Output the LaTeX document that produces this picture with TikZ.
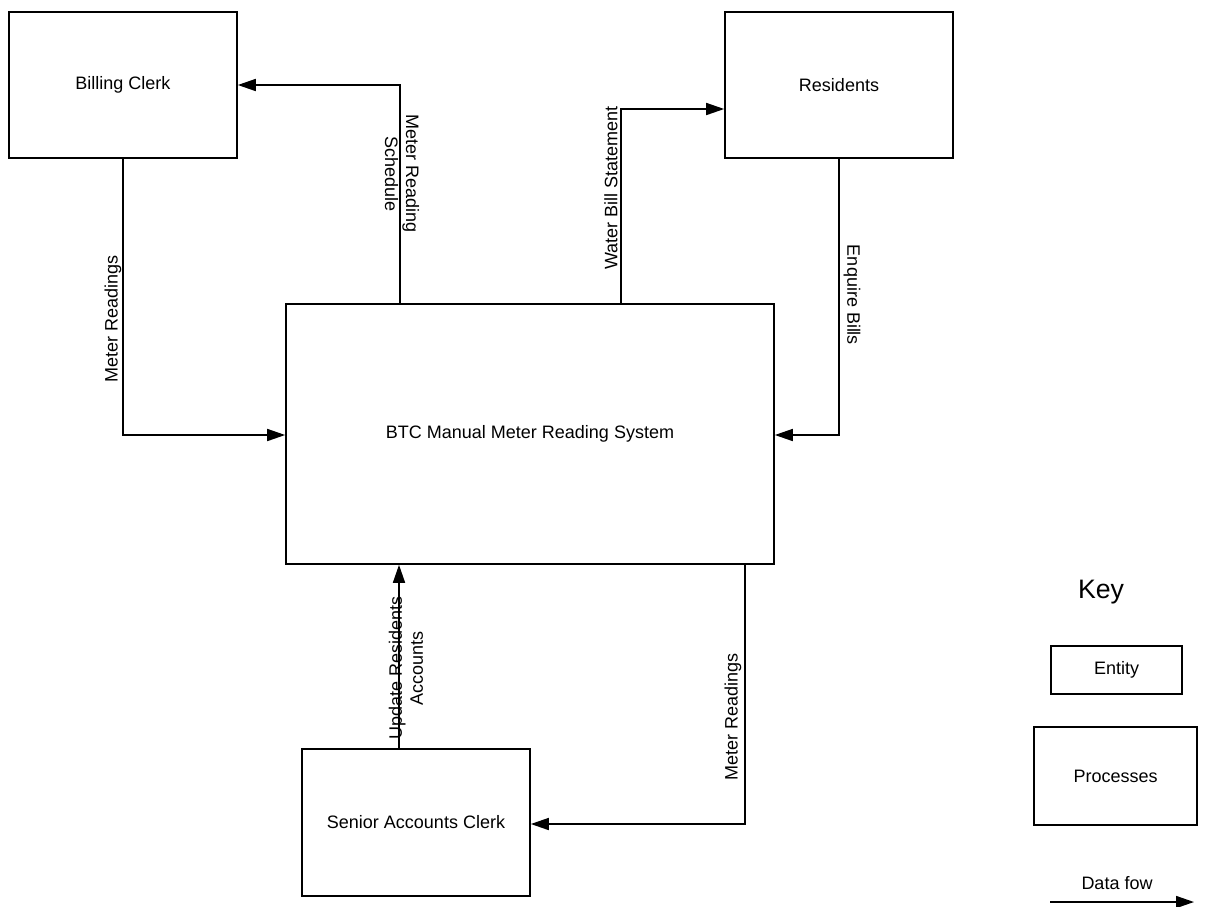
\documentclass[tikz,border=0pt]{standalone}
\usepackage{fontspec}
\setmainfont{Liberation Sans}
\usetikzlibrary{arrows.meta}
\begin{document}
\begin{tikzpicture}[x=1pt,y=-1pt,
  box/.style={draw, line width=1.6pt, inner sep=0pt, font=\fontsize{18}{21}\selectfont, align=center},
  flow/.style={line width=1.6pt, -{Triangle[length=18pt,width=12pt]}},
  lbl/.style={font=\fontsize{18}{21}\selectfont, align=center, inner sep=0pt}]
\useasboundingbox (0,0) rectangle (1206,906);
% entities and process
\node[box, minimum width=228pt, minimum height=146pt] (bc) at (123,85) {Billing Clerk};
\node[box, minimum width=228pt, minimum height=146pt] (res) at (839,85) {Residents};
\node[box, minimum width=488pt, minimum height=260pt] (btc) at (530,434) {BTC Manual Meter Reading System};
\node[box, minimum width=228pt, minimum height=147pt] (sac) at (416,822.5) {Senior Accounts Clerk};
% connectors
\draw[flow] (bc.south) |- (btc.west |- 0,435);
\draw[flow] (btc.north -| 400,0) |- (bc.east);
\draw[flow] (btc.north -| 621,0) |- (res.west |- 0,109);
\draw[flow] (res.south -| 839,0) |- (btc.east |- 0,435);
\draw[flow] (sac.north -| 399,0) -- (btc.south -| 399,0);
\draw[flow] (btc.south -| 745,0) |- (sac.east |- 0,824);
% labels
\node[lbl, rotate=90] (l1) at (113,319) {Meter Readings};
\node[lbl, rotate=-90] (l2) at (402,174) {Meter Reading\\Schedule};
\node[lbl, rotate=90] (l3) at (611,188) {Water Bill Statement};
\node[lbl, rotate=-90] (l4) at (852,295) {Enquire Bills};
\node[lbl, rotate=90] (l5) at (406,668) {Update Residents\\Accounts};
\node[lbl, rotate=90] (l6) at (733,717) {Meter Readings};
% key
\node[lbl, font=\fontsize{26.7}{30}\selectfont] (key) at (1101,592) {Key};
\node[box, minimum width=131pt, minimum height=48pt] (ent) at (1116.5,670) {Entity};
\node[box, minimum width=163pt, minimum height=98pt] (proc) at (1115.5,776) {Processes};
\node[lbl] (dft) at (1117,883) {Data fow};
\coordinate (dfa) at (1050,902);
\coordinate (dfb) at (1194,902);
\draw[flow] (dfa) -- (dfb);
\end{tikzpicture}
\end{document}
